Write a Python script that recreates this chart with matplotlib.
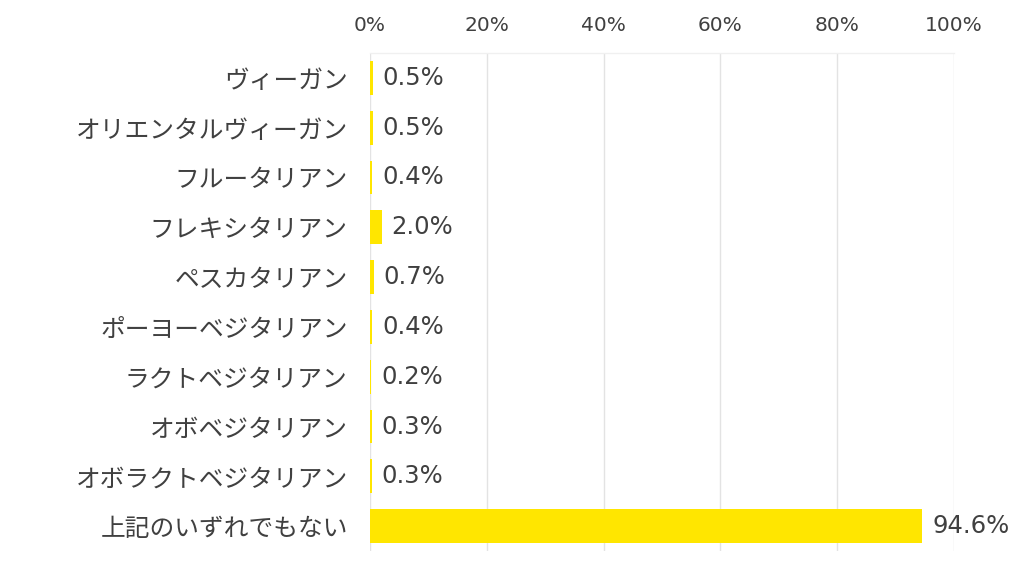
import matplotlib
matplotlib.use("Agg")
import matplotlib.pyplot as plt
from matplotlib.ticker import FuncFormatter

plt.rcParams['font.family'] = ['Noto Sans CJK JP', 'DejaVu Sans']

categories = ["ヴィーガン", "オリエンタルヴィーガン", "フルータリアン", "フレキシタリアン",
              "ペスカタリアン", "ポーヨーベジタリアン", "ラクトベジタリアン", "オボベジタリアン",
              "オボラクトベジタリアン", "上記のいずれでもない"]
values = [0.5, 0.5, 0.4, 2.0, 0.7, 0.4, 0.2, 0.3, 0.3, 94.6]
xticks = [0, 20, 40, 60, 80, 100]

bar_color = "#FFE600"
text_color = "#404040"
grid_color = "#E3E3E3"

fig = plt.figure(figsize=(10.2, 5.78), dpi=100)
ax = fig.add_axes([370/1020, 1-551/578, (954-370)/1020, (551-53)/578])

y = list(range(len(categories)))
ax.barh(y, values, height=0.68, color=bar_color, zorder=3)
ax.set_ylim(len(categories)-0.5, -0.5)
ax.set_xlim(0, 100)
ax.set_yticks(y)
ax.set_yticklabels(categories, fontsize=17.8, color=text_color)
ax.set_xticks(xticks)
ax.xaxis.set_major_formatter(FuncFormatter(lambda v, p: f"{v:.0f}%"))
ax.xaxis.tick_top()
for lbl in ax.get_xticklabels():
    lbl.set_fontfamily('DejaVu Sans')
ax.tick_params(axis='x', length=0, labelsize=14.5, labelcolor=text_color, pad=13)
ax.tick_params(axis='y', length=0, pad=16)
ax.grid(axis='x', color=grid_color, linewidth=1, zorder=0)
for s in ['left', 'right', 'bottom']:
    ax.spines[s].set_visible(False)
ax.spines['top'].set_color("#F0F0F0")
ax.spines['top'].set_linewidth(1)

for yi, v in zip(y, values):
    ax.annotate(f"{v:.1f}%", xy=(v, yi), xytext=(7, 0), textcoords='offset points',
                va='center', ha='left', fontsize=17.5, color=text_color,
                family='DejaVu Sans')

fig.savefig("out.png", dpi=100)
